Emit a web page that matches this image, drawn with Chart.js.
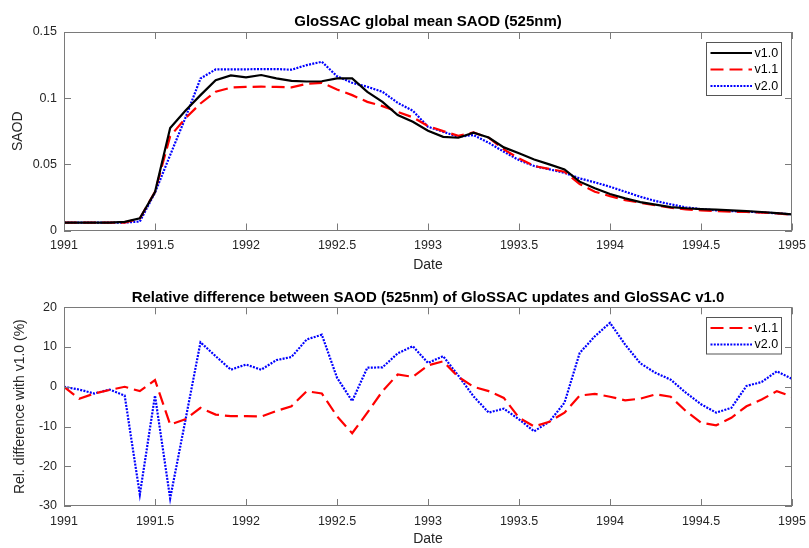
<!DOCTYPE html>
<html>
<head>
<meta charset="utf-8">
<title>GloSSAC SAOD</title>
<script src="https://cdn.jsdelivr.net/npm/chart.js@4"></script>
<style>
html, body { margin:0; padding:0; background:#fff; }
.panel { position:absolute; left:0; width:809px; height:274px; }
#saodPanel { top:0; }
#diffPanel { top:274px; }
</style>
</head>
<body>
<div class="panel" id="saodPanel"><canvas id="saodChart" width="809" height="274"></canvas></div>
<div class="panel" id="diffPanel"><canvas id="diffChart" width="809" height="274"></canvas></div>

<script>
/* =====================================
   DATA (monthly, Jan 1991 - Jan 1995)
===================================== */

const startYear = 1991;

const saodV10 = [
    0.006, 0.006, 0.006, 0.006, 0.0065, 0.0092, 0.029, 0.0775, 0.0905, 0.1023,
    0.1136, 0.1172, 0.1157, 0.1175, 0.115, 0.1131, 0.1126, 0.1128, 0.1149, 0.1149,
    0.1048, 0.0972, 0.0872, 0.0822, 0.0754, 0.0708, 0.0701, 0.0739, 0.0703, 0.0628,
    0.0583, 0.0537, 0.05, 0.0462, 0.0369, 0.0319, 0.0276, 0.0243, 0.0215, 0.0195,
    0.0177, 0.0168, 0.0162, 0.0157, 0.0152, 0.0147, 0.014, 0.0132, 0.0122
];

const saodV11 = [
    0.006, 0.006, 0.006, 0.006, 0.006, 0.0091, 0.0293, 0.0712, 0.0847, 0.096,
    0.1048, 0.108, 0.1085, 0.1087, 0.1085, 0.1082, 0.1108, 0.1116, 0.1066, 0.1023,
    0.0972, 0.094, 0.0897, 0.0855, 0.0789, 0.0751, 0.0716, 0.0741, 0.0701, 0.0613,
    0.0545, 0.0487, 0.0465, 0.0444, 0.0351, 0.0293, 0.026, 0.023, 0.021, 0.019,
    0.0172, 0.016, 0.0152, 0.0147, 0.0142, 0.014, 0.0135, 0.013, 0.0118
];

const saodV20 = [
    0.006, 0.006, 0.006, 0.006, 0.006, 0.0068, 0.0286, 0.057, 0.085, 0.1149,
    0.1217, 0.1218, 0.1218, 0.122, 0.122, 0.1215, 0.125, 0.1275, 0.1166, 0.1116,
    0.1086, 0.1048, 0.0965, 0.0905, 0.0784, 0.0746, 0.0708, 0.0721, 0.0663, 0.0595,
    0.0532, 0.0487, 0.0462, 0.0436, 0.0394, 0.0364, 0.0331, 0.0293, 0.0255, 0.0223,
    0.0198, 0.0175, 0.0162, 0.0152, 0.0147, 0.0142, 0.0137, 0.013, 0.0122
];

const relV11 = [
    0, -3, -1.7, -0.8, 0, -1.1, 1.7, -9.5, -8.2, -5.3,
    -7, -7.4, -7.4, -7.5, -6.1, -4.9, -1.1, -1.7, -7.4, -11.7,
    -6.5, -1.1, 3.1, 2.5, 5.4, 6.4, 2.5, 0, -1.1, -2.8,
    -7.8, -10, -8.8, -6.5, -2.2, -1.8, -2.5, -3.4, -3, -1.9,
    -2.5, -6.1, -9, -9.7, -7.8, -4.9, -3.2, -1.1, -2.5
];

const relV20 = [
    0, -0.7, -1.7, -0.7, -2.2, -27.1, -2.2, -28.1, -8.5, 11.2,
    7.7, 4.3, 5.6, 4.3, 6.7, 7.5, 11.9, 13.1, 2.3, -3.6,
    4.8, 4.9, 8.4, 10.2, 6, 7.7, 2.8, -2.4, -6.5, -5.5,
    -8.2, -11.2, -8.8, -4, 8.5, 12.7, 16.1, 10.6, 5.9, 3.5,
    1.8, -1.5, -4.4, -6.5, -5.3, 0.2, 1.2, 3.9, 2
];

const dates = saodV10.map((_, i) => startYear + i / 12);

const xTicks = { min:1991, max:1995, step:0.5 };
const saodTicks = { min:0, max:0.15, step:0.05 };
const relTicks = { min:-30, max:20, step:10 };

/* =====================================
   STYLE
===================================== */

const FONT = "'Liberation Sans', Arial, Helvetica, sans-serif";
const TEXT_COLOR = "#262626";
const AXIS_COLOR = "#7a7a7a";
const TICK_LEN = 7;

const styles = {
    "v1.0": { borderColor:"#000000", borderDash:[] },
    "v1.1": { borderColor:"#ff0000", borderDash:[13, 6] },
    "v2.0": { borderColor:"#0000ff", borderDash:[2, 1.3] }
};

document.addEventListener("DOMContentLoaded", () => {

    initializeSaodChart();
    initializeDiffChart();

});

/* =====================================
   PLUGINS
===================================== */

// matlab style box with inward ticks on all four sides
const axesBox = {

    id:"axesBox",

    afterDatasetsDraw(chart){

        const { ctx, chartArea:a, scales } = chart;

        ctx.save();
        ctx.strokeStyle = AXIS_COLOR;
        ctx.lineWidth = 1;

        ctx.strokeRect(
            Math.round(a.left) + 0.5,
            Math.round(a.top) + 0.5,
            Math.round(a.width) - 1,
            Math.round(a.height) - 1
        );

        ctx.beginPath();

        scales.x.ticks.forEach(t => {
            const px = Math.round(scales.x.getPixelForValue(t.value)) + 0.5;
            ctx.moveTo(px, a.bottom);
            ctx.lineTo(px, a.bottom - TICK_LEN);
            ctx.moveTo(px, a.top);
            ctx.lineTo(px, a.top + TICK_LEN);
        });

        scales.y.ticks.forEach(t => {
            const py = Math.round(scales.y.getPixelForValue(t.value)) + 0.5;
            ctx.moveTo(a.left, py);
            ctx.lineTo(a.left + TICK_LEN, py);
            ctx.moveTo(a.right, py);
            ctx.lineTo(a.right - TICK_LEN, py);
        });

        ctx.stroke();
        ctx.restore();

    }

};

// legend box inside the north east corner
const insideLegend = {

    id:"insideLegend",

    afterDraw(chart){

        const { ctx, chartArea:a } = chart;
        const sets = chart.data.datasets;

        const rowH = 16.5;
        const boxW = 75;
        const boxH = sets.length * rowH + 3.5;
        const left = Math.round(a.right - 86) + 0.5;
        const top = Math.round(a.top + 10) + 0.5;

        ctx.save();

        ctx.fillStyle = "#ffffff";
        ctx.fillRect(left, top, boxW, boxH);
        ctx.strokeStyle = "#555555";
        ctx.lineWidth = 1;
        ctx.strokeRect(left, top, boxW, boxH);

        ctx.font = "12.5px " + FONT;
        ctx.textBaseline = "middle";
        ctx.textAlign = "left";

        sets.forEach((ds, i) => {

            const cy = top + 10.5 + i * rowH;

            ctx.strokeStyle = ds.borderColor;
            ctx.lineWidth = ds.borderWidth;
            ctx.setLineDash(ds.borderDash);
            ctx.beginPath();
            ctx.moveTo(left + 4, cy);
            ctx.lineTo(left + 45.5, cy);
            ctx.stroke();
            ctx.setLineDash([]);

            ctx.fillStyle = "#000000";
            ctx.fillText(ds.label, left + 48, cy + 0.5);

        });

        ctx.restore();

    }

};

/* =====================================
   HELPERS
===================================== */

function makeSeries(label, values){

    return {
        label:label,
        data:values.map((v, i) => ({ x:dates[i], y:v })),
        borderColor:styles[label].borderColor,
        borderDash:styles[label].borderDash,
        borderWidth:2.2,
        pointRadius:0,
        tension:0,
        fill:false
    };

}

function makeOptions(cfg){

    return {

        responsive:false,
        animation:false,

        layout:{
            padding:{ left:0, right:17, top:0, bottom:0 }
        },

        plugins:{

            legend:{ display:false },
            tooltip:{ enabled:false },

            title:{
                display:true,
                text:cfg.title,
                fullSize:false,
                color:"#000000",
                font:{ family:FONT, size:15, weight:"bold", lineHeight:1.2 },
                padding:{ top:cfg.titleTop, bottom:cfg.titleBottom }
            }

        },

        scales:{

            x:{
                type:"linear",
                min:xTicks.min,
                max:xTicks.max,
                grid:{ display:false, drawTicks:false },
                border:{ display:false },
                ticks:{
                    stepSize:xTicks.step,
                    padding:8,
                    color:TEXT_COLOR,
                    maxRotation:0,
                    font:{ family:FONT, size:12.5 },
                    callback:v => String(+v.toFixed(1))
                },
                title:{
                    display:true,
                    text:"Date",
                    color:TEXT_COLOR,
                    font:{ family:FONT, size:14 },
                    padding:{ top:0, bottom:0 }
                },
                afterFit:s => {
                    s.height = cfg.xHeight;
                    s.paddingLeft = 0;
                    s.paddingRight = 0;
                }
            },

            y:{
                min:cfg.yTicks.min,
                max:cfg.yTicks.max,
                grid:{ display:false, drawTicks:false },
                border:{ display:false },
                ticks:{
                    stepSize:cfg.yTicks.step,
                    padding:7,
                    color:TEXT_COLOR,
                    font:{ family:FONT, size:12.5 },
                    callback:v => String(+v.toFixed(2))
                },
                title:{
                    display:true,
                    text:cfg.yTitle,
                    color:TEXT_COLOR,
                    font:{ family:FONT, size:14 },
                    padding:{ top:cfg.yTitlePad, bottom:0 }
                },
                afterFit:s => {
                    s.width = 64;
                    s.paddingTop = 0;
                    s.paddingBottom = 0;
                }
            }

        }

    };

}

/* =====================================
   SAOD CHART
===================================== */

function initializeSaodChart(){

    const ctx = document.getElementById("saodChart");

    if(!ctx) return;

    new Chart(ctx, {

        type:"line",

        data:{
            datasets:[
                makeSeries("v1.0", saodV10),
                makeSeries("v1.1", saodV11),
                makeSeries("v2.0", saodV20)
            ]
        },

        options:makeOptions({
            title:"GloSSAC global mean SAOD (525nm)",
            titleTop:13,
            titleBottom:1,
            xHeight:43.5,
            yTicks:saodTicks,
            yTitle:"SAOD",
            yTitlePad:10
        }),

        plugins:[axesBox, insideLegend]

    });

}

/* =====================================
   RELATIVE DIFFERENCE CHART
===================================== */

function initializeDiffChart(){

    const ctx = document.getElementById("diffChart");

    if(!ctx) return;

    new Chart(ctx, {

        type:"line",

        data:{
            datasets:[
                makeSeries("v1.1", relV11),
                makeSeries("v2.0", relV20)
            ]
        },

        options:makeOptions({
            title:"Relative difference between SAOD (525nm) of GloSSAC updates and GloSSAC v1.0",
            titleTop:15,
            titleBottom:0.3,
            xHeight:42,
            yTicks:relTicks,
            yTitle:"Rel. difference with v1.0 (%)",
            yTitlePad:12
        }),

        plugins:[axesBox, insideLegend]

    });

}
</script>
</body>
</html>
